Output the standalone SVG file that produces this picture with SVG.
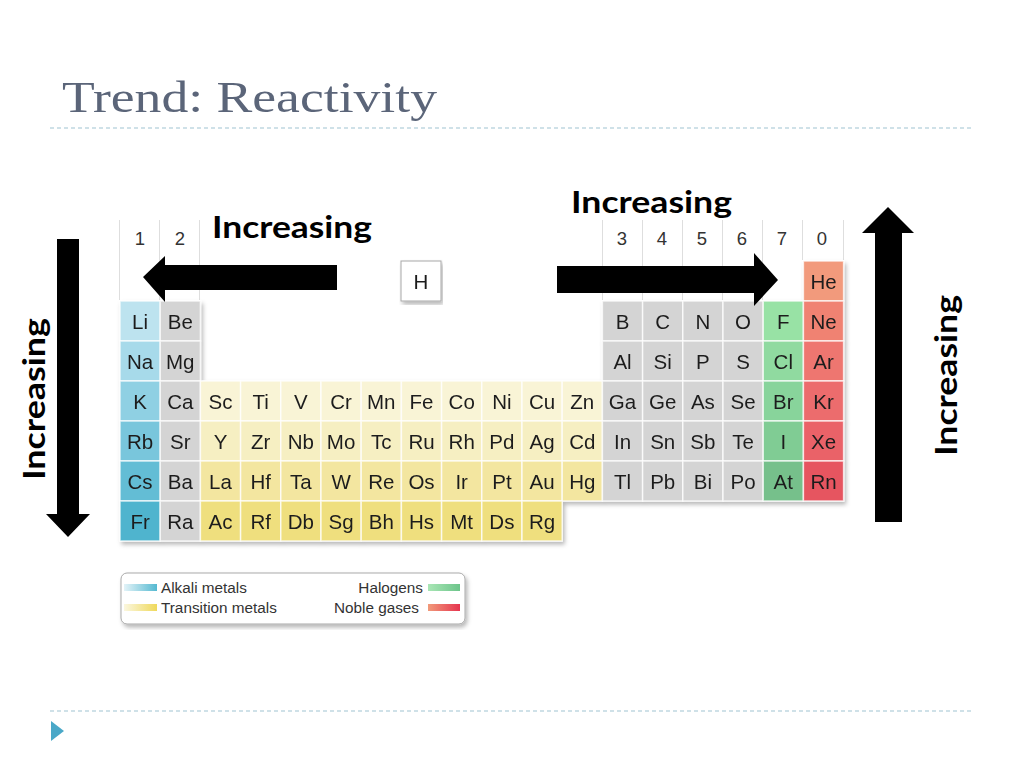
<svg xmlns="http://www.w3.org/2000/svg" width="1024" height="768" viewBox="0 0 1024 768">
<defs>
<filter id="sh" x="-5%" y="-5%" width="110%" height="115%">
<feDropShadow dx="2" dy="3" stdDeviation="2" flood-color="#000" flood-opacity="0.28"/>
</filter>
<linearGradient id="gAlk" x1="0" x2="1"><stop offset="0" stop-color="#e3f3f8"/><stop offset="1" stop-color="#55b9d1"/></linearGradient>
<linearGradient id="gTr" x1="0" x2="1"><stop offset="0" stop-color="#fbf7df"/><stop offset="1" stop-color="#efd95c"/></linearGradient>
<linearGradient id="gHal" x1="0" x2="1"><stop offset="0" stop-color="#a9e6b5"/><stop offset="1" stop-color="#6cc48a"/></linearGradient>
<linearGradient id="gNob" x1="0" x2="1"><stop offset="0" stop-color="#f19a7a"/><stop offset="1" stop-color="#e63550"/></linearGradient>
</defs>
<style>
.t{font-family:"Liberation Sans",Arial,sans-serif;font-size:20.5px;fill:#1e1e1e;text-anchor:middle}
.hd{font-family:"Liberation Sans",Arial,sans-serif;font-size:18.5px;fill:#333;text-anchor:middle}
.c rect{stroke:#ffffff;stroke-opacity:0.75;stroke-width:1.5}
.gr{fill:#d4d4d4}
.a2{fill:#bde3ef}.a3{fill:#a7daea}.a4{fill:#8fd0e3}.a5{fill:#79c6dc}.a6{fill:#63bdd5}.a7{fill:#4fb4ce}
.t4{fill:#f9f4d6}.t5{fill:#f6efc2}.t6{fill:#f3e6a0}.t7{fill:#efdf7e}
.h2{fill:#98e2a5}.h3{fill:#90daa0}.h4{fill:#88d49b}.h5{fill:#80cc94}.h6{fill:#76c08b}
.n1{fill:#f29a7b}.n2{fill:#f08272}.n3{fill:#ee7670}.n4{fill:#ec6c6d}.n5{fill:#ea6268}.n6{fill:#e65561}
.hl{stroke:#dedede;stroke-width:1}
.inc{font-family:Lato,"Open Sans",sans-serif;font-weight:bold;font-size:30px;fill:#000}
.lg{font-family:"Liberation Sans",Arial,sans-serif;font-size:15.3px;fill:#333}
.dash{stroke:#9fc3d2;stroke-width:1.2;stroke-dasharray:4 3}
</style>
<rect width="1024" height="768" fill="#ffffff"/>
<g id="title">
<text x="62" y="112" font-family="Liberation Serif,'Times New Roman',serif" font-size="44" fill="#5b6579" textLength="375" lengthAdjust="spacingAndGlyphs">Trend: Reactivity</text>
<line class="dash" x1="50" y1="128" x2="972" y2="128"/>
</g>
<g id="headers">
<line class="hl" x1="119.5" y1="220" x2="119.5" y2="300"/>
<line class="hl" x1="159.5" y1="220" x2="159.5" y2="300"/>
<line class="hl" x1="199.5" y1="220" x2="199.5" y2="300"/>
<line class="hl" x1="602.5" y1="220" x2="602.5" y2="300"/>
<line class="hl" x1="642.5" y1="220" x2="642.5" y2="300"/>
<line class="hl" x1="682.5" y1="220" x2="682.5" y2="300"/>
<line class="hl" x1="722.5" y1="220" x2="722.5" y2="300"/>
<line class="hl" x1="762.5" y1="220" x2="762.5" y2="300"/>
<line class="hl" x1="802.5" y1="220" x2="802.5" y2="260"/>
<line class="hl" x1="843.5" y1="220" x2="843.5" y2="260"/>
<text class="hd" x="140" y="245">1</text>
<text class="hd" x="180" y="245">2</text>
<text class="hd" x="622" y="245">3</text>
<text class="hd" x="662" y="245">4</text>
<text class="hd" x="702" y="245">5</text>
<text class="hd" x="742" y="245">6</text>
<text class="hd" x="782" y="245">7</text>
<text class="hd" x="822" y="245">0</text>
</g>
<g id="el-H" filter="url(#sh)">
<rect x="401" y="261" width="40" height="40" fill="#ffffff" stroke="#a8a8a8" stroke-width="1"/>
<text class="t" x="421" y="289">H</text>
</g>
<g id="table" class="c" filter="url(#sh)">
<g id="el-He"><rect class="n1" x="803.4" y="261" width="40.2" height="40"/><text class="t" x="823.5" y="289">He</text></g>
<g id="el-Li"><rect class="a2" x="120" y="301" width="40.2" height="40"/><text class="t" x="140.1" y="329">Li</text></g>
<g id="el-Be"><rect class="gr" x="160.2" y="301" width="40.2" height="40"/><text class="t" x="180.3" y="329">Be</text></g>
<g id="el-B"><rect class="gr" x="602.4" y="301" width="40.2" height="40"/><text class="t" x="622.5" y="329">B</text></g>
<g id="el-C"><rect class="gr" x="642.6" y="301" width="40.2" height="40"/><text class="t" x="662.7" y="329">C</text></g>
<g id="el-N"><rect class="gr" x="682.8" y="301" width="40.2" height="40"/><text class="t" x="702.9" y="329">N</text></g>
<g id="el-O"><rect class="gr" x="723" y="301" width="40.2" height="40"/><text class="t" x="743.1" y="329">O</text></g>
<g id="el-F"><rect class="h2" x="763.2" y="301" width="40.2" height="40"/><text class="t" x="783.3" y="329">F</text></g>
<g id="el-Ne"><rect class="n2" x="803.4" y="301" width="40.2" height="40"/><text class="t" x="823.5" y="329">Ne</text></g>
<g id="el-Na"><rect class="a3" x="120" y="341" width="40.2" height="40"/><text class="t" x="140.1" y="369">Na</text></g>
<g id="el-Mg"><rect class="gr" x="160.2" y="341" width="40.2" height="40"/><text class="t" x="180.3" y="369">Mg</text></g>
<g id="el-Al"><rect class="gr" x="602.4" y="341" width="40.2" height="40"/><text class="t" x="622.5" y="369">Al</text></g>
<g id="el-Si"><rect class="gr" x="642.6" y="341" width="40.2" height="40"/><text class="t" x="662.7" y="369">Si</text></g>
<g id="el-P"><rect class="gr" x="682.8" y="341" width="40.2" height="40"/><text class="t" x="702.9" y="369">P</text></g>
<g id="el-S"><rect class="gr" x="723" y="341" width="40.2" height="40"/><text class="t" x="743.1" y="369">S</text></g>
<g id="el-Cl"><rect class="h3" x="763.2" y="341" width="40.2" height="40"/><text class="t" x="783.3" y="369">Cl</text></g>
<g id="el-Ar"><rect class="n3" x="803.4" y="341" width="40.2" height="40"/><text class="t" x="823.5" y="369">Ar</text></g>
<g id="el-K"><rect class="a4" x="120" y="381" width="40.2" height="40"/><text class="t" x="140.1" y="409">K</text></g>
<g id="el-Ca"><rect class="gr" x="160.2" y="381" width="40.2" height="40"/><text class="t" x="180.3" y="409">Ca</text></g>
<g id="el-Sc"><rect class="t4" x="200.4" y="381" width="40.2" height="40"/><text class="t" x="220.5" y="409">Sc</text></g>
<g id="el-Ti"><rect class="t4" x="240.6" y="381" width="40.2" height="40"/><text class="t" x="260.7" y="409">Ti</text></g>
<g id="el-V"><rect class="t4" x="280.8" y="381" width="40.2" height="40"/><text class="t" x="300.9" y="409">V</text></g>
<g id="el-Cr"><rect class="t4" x="321" y="381" width="40.2" height="40"/><text class="t" x="341.1" y="409">Cr</text></g>
<g id="el-Mn"><rect class="t4" x="361.2" y="381" width="40.2" height="40"/><text class="t" x="381.3" y="409">Mn</text></g>
<g id="el-Fe"><rect class="t4" x="401.4" y="381" width="40.2" height="40"/><text class="t" x="421.5" y="409">Fe</text></g>
<g id="el-Co"><rect class="t4" x="441.6" y="381" width="40.2" height="40"/><text class="t" x="461.7" y="409">Co</text></g>
<g id="el-Ni"><rect class="t4" x="481.8" y="381" width="40.2" height="40"/><text class="t" x="501.9" y="409">Ni</text></g>
<g id="el-Cu"><rect class="t4" x="522" y="381" width="40.2" height="40"/><text class="t" x="542.1" y="409">Cu</text></g>
<g id="el-Zn"><rect class="t4" x="562.2" y="381" width="40.2" height="40"/><text class="t" x="582.3" y="409">Zn</text></g>
<g id="el-Ga"><rect class="gr" x="602.4" y="381" width="40.2" height="40"/><text class="t" x="622.5" y="409">Ga</text></g>
<g id="el-Ge"><rect class="gr" x="642.6" y="381" width="40.2" height="40"/><text class="t" x="662.7" y="409">Ge</text></g>
<g id="el-As"><rect class="gr" x="682.8" y="381" width="40.2" height="40"/><text class="t" x="702.9" y="409">As</text></g>
<g id="el-Se"><rect class="gr" x="723" y="381" width="40.2" height="40"/><text class="t" x="743.1" y="409">Se</text></g>
<g id="el-Br"><rect class="h4" x="763.2" y="381" width="40.2" height="40"/><text class="t" x="783.3" y="409">Br</text></g>
<g id="el-Kr"><rect class="n4" x="803.4" y="381" width="40.2" height="40"/><text class="t" x="823.5" y="409">Kr</text></g>
<g id="el-Rb"><rect class="a5" x="120" y="421" width="40.2" height="40"/><text class="t" x="140.1" y="449">Rb</text></g>
<g id="el-Sr"><rect class="gr" x="160.2" y="421" width="40.2" height="40"/><text class="t" x="180.3" y="449">Sr</text></g>
<g id="el-Y"><rect class="t5" x="200.4" y="421" width="40.2" height="40"/><text class="t" x="220.5" y="449">Y</text></g>
<g id="el-Zr"><rect class="t5" x="240.6" y="421" width="40.2" height="40"/><text class="t" x="260.7" y="449">Zr</text></g>
<g id="el-Nb"><rect class="t5" x="280.8" y="421" width="40.2" height="40"/><text class="t" x="300.9" y="449">Nb</text></g>
<g id="el-Mo"><rect class="t5" x="321" y="421" width="40.2" height="40"/><text class="t" x="341.1" y="449">Mo</text></g>
<g id="el-Tc"><rect class="t5" x="361.2" y="421" width="40.2" height="40"/><text class="t" x="381.3" y="449">Tc</text></g>
<g id="el-Ru"><rect class="t5" x="401.4" y="421" width="40.2" height="40"/><text class="t" x="421.5" y="449">Ru</text></g>
<g id="el-Rh"><rect class="t5" x="441.6" y="421" width="40.2" height="40"/><text class="t" x="461.7" y="449">Rh</text></g>
<g id="el-Pd"><rect class="t5" x="481.8" y="421" width="40.2" height="40"/><text class="t" x="501.9" y="449">Pd</text></g>
<g id="el-Ag"><rect class="t5" x="522" y="421" width="40.2" height="40"/><text class="t" x="542.1" y="449">Ag</text></g>
<g id="el-Cd"><rect class="t5" x="562.2" y="421" width="40.2" height="40"/><text class="t" x="582.3" y="449">Cd</text></g>
<g id="el-In"><rect class="gr" x="602.4" y="421" width="40.2" height="40"/><text class="t" x="622.5" y="449">In</text></g>
<g id="el-Sn"><rect class="gr" x="642.6" y="421" width="40.2" height="40"/><text class="t" x="662.7" y="449">Sn</text></g>
<g id="el-Sb"><rect class="gr" x="682.8" y="421" width="40.2" height="40"/><text class="t" x="702.9" y="449">Sb</text></g>
<g id="el-Te"><rect class="gr" x="723" y="421" width="40.2" height="40"/><text class="t" x="743.1" y="449">Te</text></g>
<g id="el-I"><rect class="h5" x="763.2" y="421" width="40.2" height="40"/><text class="t" x="783.3" y="449">I</text></g>
<g id="el-Xe"><rect class="n5" x="803.4" y="421" width="40.2" height="40"/><text class="t" x="823.5" y="449">Xe</text></g>
<g id="el-Cs"><rect class="a6" x="120" y="461" width="40.2" height="40"/><text class="t" x="140.1" y="489">Cs</text></g>
<g id="el-Ba"><rect class="gr" x="160.2" y="461" width="40.2" height="40"/><text class="t" x="180.3" y="489">Ba</text></g>
<g id="el-La"><rect class="t6" x="200.4" y="461" width="40.2" height="40"/><text class="t" x="220.5" y="489">La</text></g>
<g id="el-Hf"><rect class="t6" x="240.6" y="461" width="40.2" height="40"/><text class="t" x="260.7" y="489">Hf</text></g>
<g id="el-Ta"><rect class="t6" x="280.8" y="461" width="40.2" height="40"/><text class="t" x="300.9" y="489">Ta</text></g>
<g id="el-W"><rect class="t6" x="321" y="461" width="40.2" height="40"/><text class="t" x="341.1" y="489">W</text></g>
<g id="el-Re"><rect class="t6" x="361.2" y="461" width="40.2" height="40"/><text class="t" x="381.3" y="489">Re</text></g>
<g id="el-Os"><rect class="t6" x="401.4" y="461" width="40.2" height="40"/><text class="t" x="421.5" y="489">Os</text></g>
<g id="el-Ir"><rect class="t6" x="441.6" y="461" width="40.2" height="40"/><text class="t" x="461.7" y="489">Ir</text></g>
<g id="el-Pt"><rect class="t6" x="481.8" y="461" width="40.2" height="40"/><text class="t" x="501.9" y="489">Pt</text></g>
<g id="el-Au"><rect class="t6" x="522" y="461" width="40.2" height="40"/><text class="t" x="542.1" y="489">Au</text></g>
<g id="el-Hg"><rect class="t6" x="562.2" y="461" width="40.2" height="40"/><text class="t" x="582.3" y="489">Hg</text></g>
<g id="el-Tl"><rect class="gr" x="602.4" y="461" width="40.2" height="40"/><text class="t" x="622.5" y="489">Tl</text></g>
<g id="el-Pb"><rect class="gr" x="642.6" y="461" width="40.2" height="40"/><text class="t" x="662.7" y="489">Pb</text></g>
<g id="el-Bi"><rect class="gr" x="682.8" y="461" width="40.2" height="40"/><text class="t" x="702.9" y="489">Bi</text></g>
<g id="el-Po"><rect class="gr" x="723" y="461" width="40.2" height="40"/><text class="t" x="743.1" y="489">Po</text></g>
<g id="el-At"><rect class="h6" x="763.2" y="461" width="40.2" height="40"/><text class="t" x="783.3" y="489">At</text></g>
<g id="el-Rn"><rect class="n6" x="803.4" y="461" width="40.2" height="40"/><text class="t" x="823.5" y="489">Rn</text></g>
<g id="el-Fr"><rect class="a7" x="120" y="501" width="40.2" height="40"/><text class="t" x="140.1" y="529">Fr</text></g>
<g id="el-Ra"><rect class="gr" x="160.2" y="501" width="40.2" height="40"/><text class="t" x="180.3" y="529">Ra</text></g>
<g id="el-Ac"><rect class="t7" x="200.4" y="501" width="40.2" height="40"/><text class="t" x="220.5" y="529">Ac</text></g>
<g id="el-Rf"><rect class="t7" x="240.6" y="501" width="40.2" height="40"/><text class="t" x="260.7" y="529">Rf</text></g>
<g id="el-Db"><rect class="t7" x="280.8" y="501" width="40.2" height="40"/><text class="t" x="300.9" y="529">Db</text></g>
<g id="el-Sg"><rect class="t7" x="321" y="501" width="40.2" height="40"/><text class="t" x="341.1" y="529">Sg</text></g>
<g id="el-Bh"><rect class="t7" x="361.2" y="501" width="40.2" height="40"/><text class="t" x="381.3" y="529">Bh</text></g>
<g id="el-Hs"><rect class="t7" x="401.4" y="501" width="40.2" height="40"/><text class="t" x="421.5" y="529">Hs</text></g>
<g id="el-Mt"><rect class="t7" x="441.6" y="501" width="40.2" height="40"/><text class="t" x="461.7" y="529">Mt</text></g>
<g id="el-Ds"><rect class="t7" x="481.8" y="501" width="40.2" height="40"/><text class="t" x="501.9" y="529">Ds</text></g>
<g id="el-Rg"><rect class="t7" x="522" y="501" width="40.2" height="40"/><text class="t" x="542.1" y="529">Rg</text></g>
</g>
<g id="legend">
<rect x="121" y="573" width="344" height="51" rx="6" fill="#ffffff" stroke="#a9a9a9" stroke-width="1" filter="url(#sh)"/>
<rect x="124" y="584" width="33" height="7" fill="url(#gAlk)"/>
<rect x="124" y="604" width="33" height="7" fill="url(#gTr)"/>
<rect x="428" y="584" width="32" height="7" fill="url(#gHal)"/>
<rect x="428" y="604" width="32" height="7" fill="url(#gNob)"/>
<text class="lg" x="161" y="593">Alkali metals</text>
<text class="lg" x="161" y="613">Transition metals</text>
<text class="lg" x="423" y="593" text-anchor="end">Halogens</text>
<text class="lg" x="419" y="613" text-anchor="end">Noble gases</text>
</g>
<g id="connectors" fill="#000">
<polygon points="337,265 165,265 165,256 143,277 165,302 165,290 337,290"/>
<polygon points="557,266 754,266 754,253 778,280 754,306 754,293 557,293"/>
<polygon points="57,239 79,239 79,514 90,514 68,537 46,514 57,514"/>
<polygon points="875,522 902,522 902,233 914,233 888,207 862,233 875,233"/>
</g>
<g id="labels">
<text class="inc" x="212" y="238" textLength="160" lengthAdjust="spacingAndGlyphs">Increasing</text>
<text class="inc" x="571" y="213" textLength="161" lengthAdjust="spacingAndGlyphs">Increasing</text>
<text class="inc" transform="translate(45,480) rotate(-90)" textLength="162" lengthAdjust="spacingAndGlyphs">Increasing</text>
<text class="inc" transform="translate(957,456) rotate(-90)" textLength="161" lengthAdjust="spacingAndGlyphs">Increasing</text>
</g>
<g id="footer">
<line class="dash" x1="50" y1="711" x2="972" y2="711"/>
<polygon points="51,721 64,731 51,741" fill="#4aa8c8"/>
</g>
</svg>
